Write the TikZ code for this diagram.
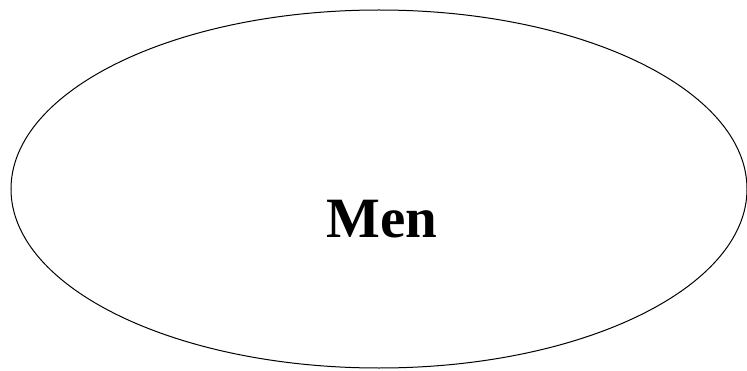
\documentclass[tikz,border=0pt]{standalone}
\usepackage{fontspec}
\setmainfont{Liberation Serif}
\usetikzlibrary{shapes.geometric}

\begin{document}
\begin{tikzpicture}[
   x=1pt, y=1pt,
   set/.style={draw=black, line width=1pt, ellipse, minimum width=736pt, minimum height=358pt, inner sep=0pt},
   setlabel/.style={font=\fontsize{57}{60}\selectfont\bfseries, anchor=base, inner sep=0pt},
]
  \useasboundingbox (0,0) rectangle (747,370);
  \node[set] (men) at (379,181) {};
  \node[setlabel] (menlabel) at (382,133) {Men};
\end{tikzpicture}
\end{document}
